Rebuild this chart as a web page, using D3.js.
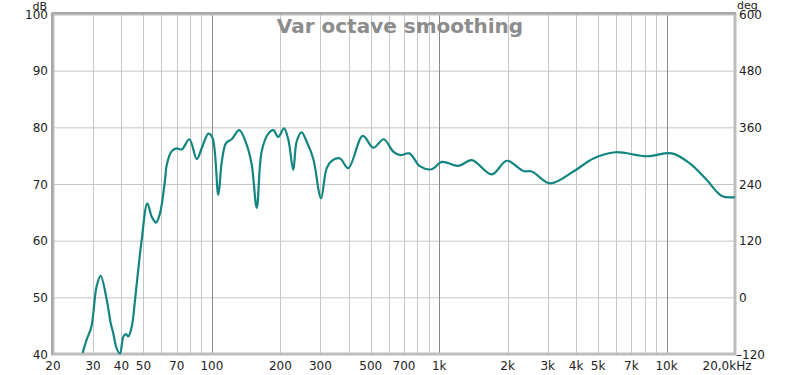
<!DOCTYPE html>
<html>
<head>
<meta charset="utf-8">
<script src="https://cdn.jsdelivr.net/npm/d3@7"></script>
<style>
  body { margin: 0; background: #fff; }
  svg text { font-family: "DejaVu Sans", Verdana, sans-serif; }
</style>
</head>
<body>
<svg id="chart"></svg>
<script>
// data
const freqs = [27.0, 28.1, 29.5, 31.1, 32.4, 34.5, 35.9, 36.8, 38.1, 39.4, 40.8, 41.9, 42.9, 44.4, 45.9, 47.4, 49.1,
  52.0, 54.4, 56.8, 59.1, 62.2, 63.3, 66.6, 70.0, 73.7, 79.6, 85.8, 90.2, 96.5, 100.7, 106.7, 110.5, 115.4, 122.2,
  132.0, 142.3, 149.7, 157.5, 165.6, 177.1, 186.3, 196, 207.6, 216.9, 228, 236, 248, 261, 279, 302, 320, 340, 366,
  398, 461, 513, 570, 628, 673, 739, 824, 927, 1026, 1214, 1391, 1703, 1982, 2345, 2553, 3074, 3892, 4768, 5938,
  8186, 10544, 12692, 15032, 17498, 20000];
const dbValues = [40.2, 42.5, 44.8, 51.9, 53.8, 49.5, 45.4, 43.7, 41.0, 40.1, 43.1, 43.5, 43.1, 44.8, 49.5, 54.8, 60.1,
  66.6, 64.2, 63.2, 64.8, 70.7, 73.4, 75.8, 76.3, 76.1, 77.9, 74.4, 76.3, 78.9, 78.1, 68.1, 73.9, 77.2, 77.9,
  79.5, 76.9, 73.4, 65.8, 75.8, 78.9, 79.5, 78.3, 79.8, 77.8, 72.5, 77.5, 79.1, 77.5, 74.5, 67.5, 72.8, 74.2, 74.5,
  72.8, 78.5, 76.4, 77.9, 75.7, 75.1, 75.4, 73.1, 72.6, 73.9, 73.2, 74.2, 71.7, 74.1, 72.3, 72.2, 70.1, 72.2, 74.5, 75.6,
  74.9, 75.4, 73.6, 70.7, 67.9, 67.7];

const gridFreqs = [30, 40, 50, 60, 70, 80, 90, 200, 300, 400, 500, 600, 700, 800, 900,
  2000, 3000, 4000, 5000, 6000, 7000, 8000, 9000];
const decadeFreqs = [100, 1000, 10000];
const xTickValues = [20, 30, 40, 50, 70, 100, 200, 300, 500, 700, 1000, 2000, 3000, 4000, 5000, 7000, 10000];
const xTickLabels = ["20", "30", "40", "50", "70", "100", "200", "300", "500", "700", "1k", "2k", "3k", "4k", "5k", "7k", "10k"];
const dbTicks = [40, 50, 60, 70, 80, 90, 100];
const degTicks = [-120, 0, 120, 240, 360, 480, 600];

const W = 800, H = 375;
const plot = { left: 53, right: 735, top: 14, bottom: 354 };

const svg = d3.select("svg#chart").attr("width", W).attr("height", H);

const xScale = d3.scaleLog().domain([20, 20000]).range([plot.left, plot.right]);
const yScale = d3.scaleLinear().domain([40, 100]).range([plot.bottom, plot.top]);
const degScale = d3.scaleLinear().domain([-120, 600]).range([plot.bottom, plot.top]);

// grid
svg.append("g").selectAll("line.hgrid")
  .data(dbTicks.slice(1, -1))
  .enter().append("line")
  .attr("x1", plot.left).attr("x2", plot.right)
  .attr("y1", d => yScale(d) + 0.5).attr("y2", d => yScale(d) + 0.5)
  .style("stroke", "#c6c6c6");

svg.append("g").selectAll("line.vgrid")
  .data(gridFreqs)
  .enter().append("line")
  .attr("x1", d => Math.round(xScale(d)) + 0.5).attr("x2", d => Math.round(xScale(d)) + 0.5)
  .attr("y1", plot.top).attr("y2", plot.bottom)
  .style("stroke", "#c6c6c6");

svg.append("g").selectAll("line.decade")
  .data(decadeFreqs)
  .enter().append("line")
  .attr("x1", d => Math.round(xScale(d)) + 0.5).attr("x2", d => Math.round(xScale(d)) + 0.5)
  .attr("y1", plot.top).attr("y2", plot.bottom)
  .style("stroke", "#8a8a8a");

// frame
svg.append("rect")
  .attr("x", plot.left).attr("y", plot.top)
  .attr("width", plot.right - plot.left).attr("height", plot.bottom - plot.top)
  .style("fill", "none").style("stroke", "#bdbdbd").style("stroke-width", 3);
svg.append("line")
  .attr("x1", plot.left - 1).attr("x2", plot.left - 1)
  .attr("y1", plot.top - 1).attr("y2", plot.bottom + 1)
  .style("stroke", "#a8a8a8").style("stroke-width", 2);
svg.append("line")
  .attr("x1", plot.left - 1).attr("x2", plot.right + 1)
  .attr("y1", plot.top - 1).attr("y2", plot.top - 1)
  .style("stroke", "#a8a8a8").style("stroke-width", 2);

// title
svg.append("text")
  .attr("x", 400).attr("y", 33)
  .attr("text-anchor", "middle")
  .style("font-size", "20px").style("font-weight", "bold")
  .style("fill", "#8c8c8c")
  .text("Var octave smoothing");

// response curve
const line = d3.line()
  .x((d, i) => xScale(freqs[i]))
  .y(d => yScale(d))
  .curve(d3.curveCatmullRom.alpha(0.5));

svg.append("path")
  .datum(dbValues)
  .attr("d", line)
  .style("fill", "none")
  .style("stroke", "#138580")
  .style("stroke-width", 2.2);

// left axis labels
svg.append("g").selectAll("text")
  .data(dbTicks)
  .enter().append("text")
  .attr("x", 48).attr("y", d => yScale(d) + 4.5)
  .attr("text-anchor", "end")
  .style("font-size", "12px").style("fill", "#222")
  .text(d => d);
svg.append("text")
  .attr("x", 47).attr("y", 9.5)
  .attr("text-anchor", "end")
  .style("font-size", "11px").style("fill", "#222")
  .text("dB");

// right axis labels
svg.append("g").selectAll("text")
  .data(degTicks)
  .enter().append("text")
  .attr("x", d => d < 0 ? 736 : 739).attr("y", d => degScale(d) + 4.5)
  .style("font-size", "12px").style("fill", "#222")
  .text(d => d < 0 ? "\u2013" + Math.abs(d) : d);
svg.append("text")
  .attr("x", 737).attr("y", 8.5)
  .style("font-size", "11px").style("fill", "#222")
  .text("deg");

// x labels
svg.append("g").selectAll("text")
  .data(xTickValues)
  .enter().append("text")
  .attr("x", d => xScale(d)).attr("y", 370)
  .attr("text-anchor", "middle")
  .style("font-size", "12px").style("fill", "#222")
  .text((d, i) => xTickLabels[i]);
svg.append("text")
  .attr("x", 727).attr("y", 370)
  .attr("text-anchor", "middle")
  .style("font-size", "12px").style("fill", "#222")
  .text("20,0kHz");
</script>
</body>
</html>
